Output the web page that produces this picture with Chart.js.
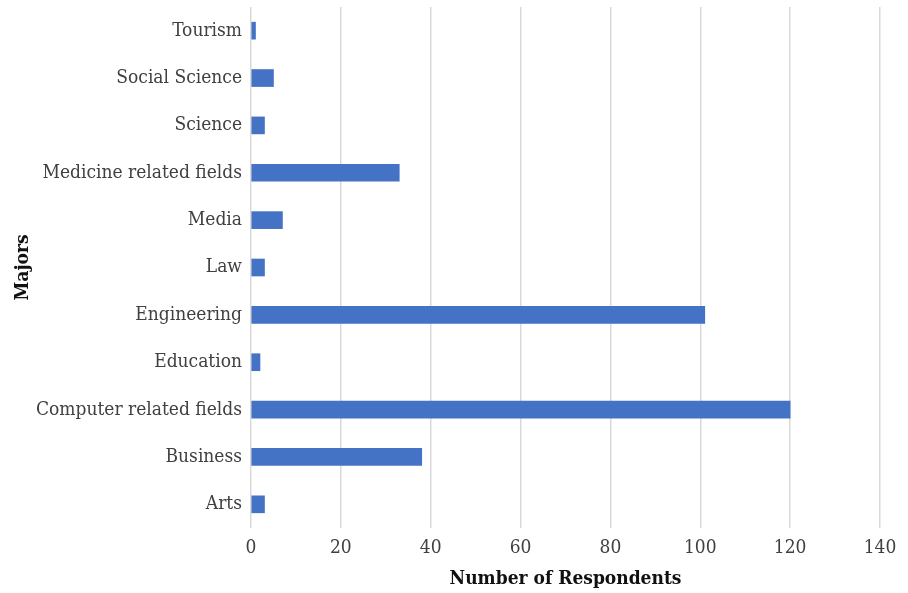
<!DOCTYPE html>
<html>
<head>
<meta charset="utf-8">
<script src="https://cdn.jsdelivr.net/npm/chart.js@4/dist/chart.umd.min.js"></script>
<style>
  html, body { margin: 0; padding: 0; background: #fff; }
  #wrap { width: 908px; height: 593px; }
</style>
</head>
<body>
<div id="wrap"><canvas id="majorsChart" width="908" height="593"></canvas></div>
<script>
const majors = ['Arts', 'Business', 'Computer related fields', 'Education', 'Engineering', 'Law',
  'Media', 'Medicine related fields', 'Science', 'Social Science', 'Tourism'];
const respondents = [3, 38, 120, 2, 101, 3, 7, 33, 3, 5, 1];
const xTicks = [0, 20, 40, 60, 80, 100, 120, 140];

const FONT = '"DejaVu Serif Condensed", "Liberation Serif", serif';
const TEXT = '#404040';

const ctx = document.getElementById('majorsChart').getContext('2d');
new Chart(ctx, {
  type: 'bar',
  data: {
    labels: majors,
    datasets: [{
      label: 'Respondents',
      data: respondents,
      backgroundColor: '#4472C4',
      barThickness: 17
    }]
  },
  options: {
    indexAxis: 'y',
    responsive: false,
    animation: false,
    layout: { padding: { top: 7, right: 28, bottom: 0, left: 0 } },
    plugins: { legend: { display: false }, tooltip: { enabled: false } },
    scales: {
      x: {
        min: 0,
        max: 140,
        afterBuildTicks: s => { s.ticks = xTicks.map(v => ({ value: v })); },
        grid: { color: '#d9d9d9', lineWidth: 1.5, drawTicks: false },
        border: { display: false },
        ticks: { color: TEXT, padding: 9, font: { family: FONT, size: 19 } },
        title: {
          display: true,
          text: 'Number of Respondents',
          color: '#111',
          padding: { top: 0, bottom: 3 },
          font: { family: FONT, size: 19, weight: 'bold' }
        },
        afterFit: s => { s.height = 65; }
      },
      y: {
        reverse: true,
        grid: { display: false },
        border: { display: false },
        ticks: { color: TEXT, padding: 1, font: { family: FONT, size: 19 } },
        title: {
          display: true,
          text: 'Majors',
          color: '#111',
          padding: { top: 12, bottom: 0 },
          font: { family: FONT, size: 19, weight: 'bold' }
        },
        afterFit: s => {
          s.width = 251;
          s.paddingTop = 0;
          s.paddingBottom = 0;
        }
      }
    }
  }
});
</script>
</body>
</html>
